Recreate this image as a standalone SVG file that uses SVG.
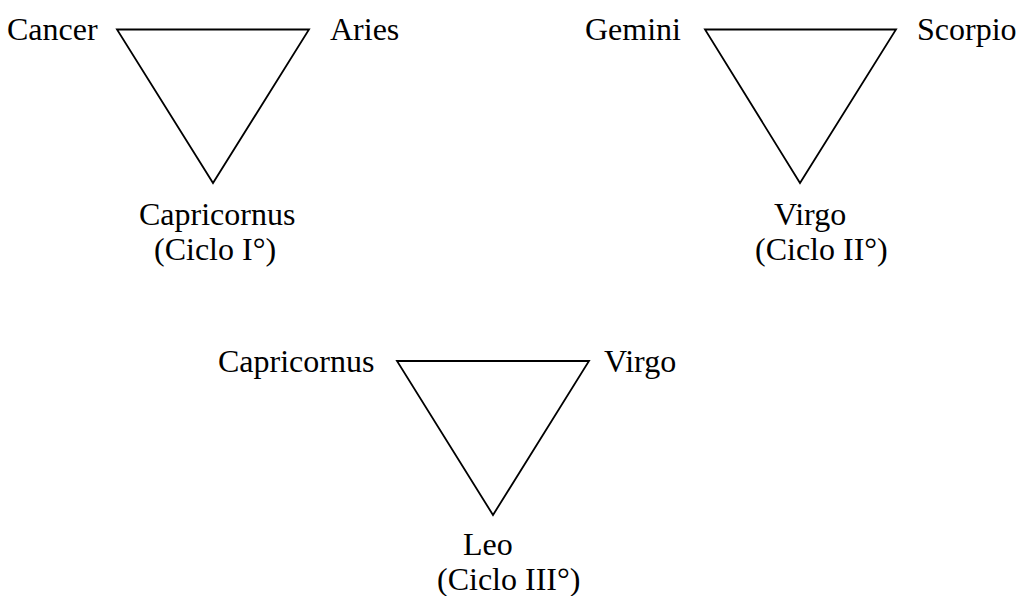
<svg xmlns="http://www.w3.org/2000/svg" width="1018" height="596" viewBox="0 0 1018 596">
<style>
.t{font-family:"Liberation Serif","Times New Roman",serif;font-size:32px;fill:#000}
.tri{fill:none;stroke:#000;stroke-width:1.8;stroke-linejoin:miter}
</style>
<rect width="1018" height="596" fill="#fff"/>
<g id="connectors">
<polygon class="tri" points="117,29.5 309,29.5 213,183"/>
<polygon class="tri" points="705,29.5 896,29.5 800,183"/>
<polygon class="tri" points="397,361 589,361 493,515"/>
</g>
<g id="cancer"><text class="t" x="7" y="40">Cancer</text></g>
<g id="aries"><text class="t" x="330" y="40">Aries</text></g>
<g id="capricornus1"><text class="t" x="139" y="225">Capricornus</text><text class="t" x="154" y="260">(Ciclo I°)</text></g>
<g id="gemini"><text class="t" x="585" y="40">Gemini</text></g>
<g id="scorpio"><text class="t" x="917" y="40">Scorpio</text></g>
<g id="virgo1"><text class="t" x="774" y="225">Virgo</text><text class="t" x="755" y="260">(Ciclo II°)</text></g>
<g id="capricornus2"><text class="t" x="218" y="372">Capricornus</text></g>
<g id="virgo2"><text class="t" x="604" y="372">Virgo</text></g>
<g id="leo"><text class="t" x="463" y="555">Leo</text><text class="t" x="437" y="590">(Ciclo III°)</text></g>
</svg>
